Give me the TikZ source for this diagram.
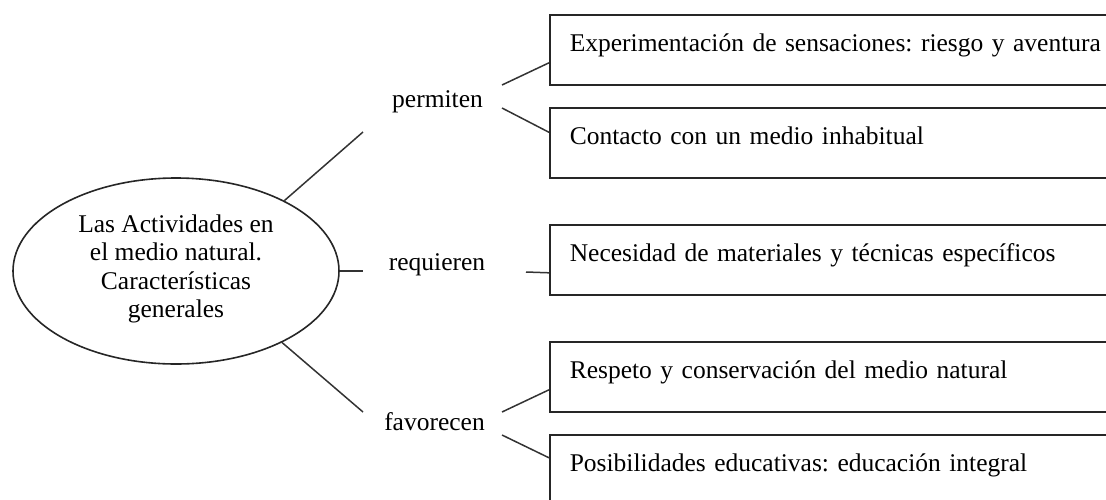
\documentclass[tikz,border=0pt]{standalone}
\usepackage{fontspec}
\setmainfont{Liberation Serif}
\usetikzlibrary{shapes.geometric}
\begin{document}
\frenchspacing
\begin{tikzpicture}[x=1pt,y=-1pt,
  every node/.style={font=\fontsize{25.5}{28.5}\selectfont},
  box/.style={draw=black!85, line width=1.6pt, rectangle, anchor=north west, inner xsep=20pt, inner ysep=0pt,
    text height=37pt, text depth=33pt, text width=640pt, align=left},
  lbl/.style={anchor=base, inner sep=0pt},
  link/.style={draw=black!80, line width=1.5pt}]
\useasboundingbox (0,0) rectangle (1106,499);

% central ellipse
\node[ellipse, draw=black!85, line width=1.6pt, minimum width=326pt, minimum height=186pt, inner sep=0pt, align=center]
  (ell) at (176,271) {Las Actividades en\\el medio natural.\\Características\\generales\rule[-10pt]{0pt}{10pt}};

% verb labels
\node[lbl] (perm) at (437.5,107) {permiten};
\node[lbl] (req) at (437,270) {requieren};
\node[lbl] (fav) at (434.5,430) {favorecen};

% boxes
\node[box] (b1) at (549,14) {Experimentación de sensaciones: riesgo y aventura};
\node[box] (b2) at (549,107) {Contacto con un medio inhabitual};
\node[box] (b3) at (549,224) {Necesidad de materiales y técnicas específicos};
\node[box] (b4) at (549,341) {Respeto y conservación del medio natural};
\node[box] (b5) at (549,434) {Posibilidades educativas: educación integral};

% free ends of connectors
\coordinate (pA) at (363,132);
\coordinate (rA) at (363,271);
\coordinate (fA) at (363,412);
\coordinate (pB1) at (502,85);
\coordinate (pB2) at (502,108);
\coordinate (rB) at (526,272);
\coordinate (fB1) at (502,412);
\coordinate (fB2) at (502,435);

% connectors
\draw[link] (ell.33) -- (pA);
\draw[link] (ell.east) -- (rA);
\draw[link] (ell.-34) -- (fA);
\draw[link] (pB1) -- ([yshift=-13pt]b1.west);
\draw[link] (pB2) -- ([yshift=10.5pt]b2.west);
\draw[link] (rB) -- ([yshift=-13pt]b3.west);
\draw[link] (fB1) -- ([yshift=-13pt]b4.west);
\draw[link] (fB2) -- ([yshift=12pt]b5.west);
\end{tikzpicture}
\end{document}
